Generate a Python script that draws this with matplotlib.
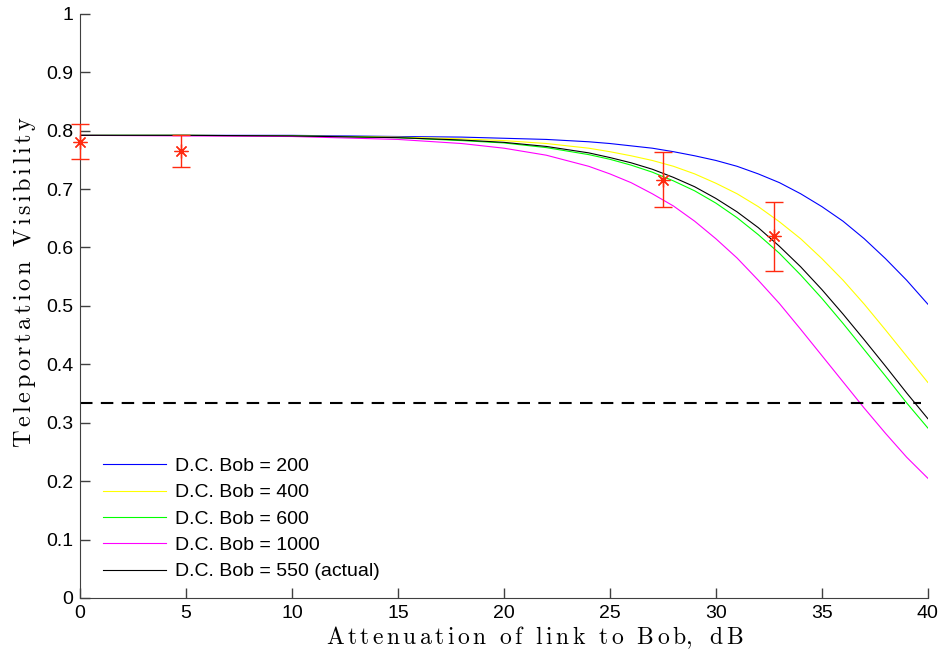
import matplotlib
matplotlib.use("Agg")
import matplotlib.pyplot as plt

# attenuation grid the curve values were read at (dB)
atten = [0, 5, 10, 15, 18, 20, 22, 24, 25, 26, 27, 28, 29, 30, 31, 32, 33, 34, 35, 36, 37, 38, 39, 40]

vis_200 = [0.792, 0.792, 0.792, 0.790, 0.789, 0.787, 0.785, 0.781, 0.778, 0.774, 0.770, 0.764, 0.757, 0.749,
           0.739, 0.726, 0.711, 0.692, 0.670, 0.645, 0.615, 0.581, 0.544, 0.503]
vis_400 = [0.792, 0.792, 0.791, 0.789, 0.786, 0.783, 0.778, 0.770, 0.764, 0.757, 0.749, 0.739, 0.726, 0.710,
           0.692, 0.670, 0.644, 0.615, 0.581, 0.544, 0.503, 0.459, 0.414, 0.369]
vis_600 = [0.792, 0.792, 0.791, 0.788, 0.783, 0.779, 0.771, 0.759, 0.751, 0.741, 0.729, 0.714, 0.697, 0.676,
           0.651, 0.622, 0.590, 0.553, 0.513, 0.470, 0.425, 0.380, 0.334, 0.291]
vis_1000 = [0.792, 0.791, 0.790, 0.785, 0.778, 0.770, 0.758, 0.739, 0.726, 0.711, 0.692, 0.671, 0.645, 0.615,
            0.582, 0.544, 0.504, 0.460, 0.415, 0.370, 0.325, 0.282, 0.241, 0.205]
vis_550 = [0.792, 0.792, 0.791, 0.788, 0.784, 0.780, 0.773, 0.762, 0.754, 0.745, 0.734, 0.720, 0.704, 0.684,
           0.661, 0.634, 0.602, 0.567, 0.528, 0.486, 0.442, 0.397, 0.351, 0.307]

# measured points
meas_x = [0.0, 4.75, 27.5, 32.75]
meas_y = [0.781, 0.765, 0.716, 0.619]
meas_err = [0.030, 0.028, 0.047, 0.059]

threshold = 1 / 3
threshold_x = [0, 39.7]

plt.rcParams["font.family"] = ["Liberation Sans", "DejaVu Sans"]
plt.rcParams["mathtext.fontset"] = "cm"

fig = plt.figure(figsize=(9.41, 6.59), dpi=100)
ax = fig.add_axes([0.085, 0.0926, 0.901, 0.8864])

ax.plot(atten, vis_200, color="#0000ff", lw=0.8, label="D.C. Bob = 200")
ax.plot(atten, vis_400, color="#ffff00", lw=0.8, label="D.C. Bob = 400")
ax.plot(atten, vis_600, color="#00ff00", lw=0.8, label="D.C. Bob = 600")
ax.plot(atten, vis_1000, color="#ff00ff", lw=0.8, label="D.C. Bob = 1000")
ax.plot(atten, vis_550, color="black", lw=0.8, label="D.C. Bob = 550 (actual)")

# matlab style '*' = 8 armed asterisk
ax.errorbar(meas_x, meas_y, yerr=meas_err, fmt="none", ecolor="#ff2a10",
            capsize=6.5, elinewidth=1, capthick=1, clip_on=False, zorder=5)
ax.plot(meas_x, meas_y, ls="none", marker=(8, 2, 0), ms=10, mew=0.9,
        color="#ff2a10", clip_on=False, zorder=6)
ax.plot(threshold_x, [threshold, threshold], "k--", lw=1.5, dashes=(6, 4))

ax.set_xlim(0, 40)
ax.set_ylim(0, 1)
ax.set_xticks(range(0, 41, 5))
ax.set_yticks([i / 10 for i in range(11)])
ax.set_yticklabels(["0"] + [f"{i / 10:g}" for i in range(1, 10)] + ["1"])
ax.tick_params(direction="in", length=7, width=1, labelsize=14, color="#404040", pad=5)
for s in ["top", "right"]:
    ax.spines[s].set_visible(False)
for s in ["left", "bottom"]:
    ax.spines[s].set_color("#404040")

ax.set_xlabel(r"$\mathrm{A\,t\,t\,e\,n\,u\,a\,t\,i\,o\,n\ \ o\,f\ \ l\,i\,n\,k\ \ t\,o\ \ B\,o\,b,\ \ d\,B}$", fontsize=17)
ax.set_ylabel(r"$\mathrm{T\,e\,l\,e\,p\,o\,r\,t\,a\,t\,i\,o\,n\ \ V\,i\,s\,i\,b\,i\,l\,i\,t\,y}$", fontsize=17.5)
ax.xaxis.set_label_coords(0.537, -0.046)
ax.yaxis.set_label_coords(-0.05, 0.541)

ax.legend(loc="lower left", frameon=False, fontsize=14, handlelength=3.2,
          handletextpad=0.5, labelspacing=0.45, bbox_to_anchor=(0.007, 0.0))

fig.savefig("out.png", dpi=100)
